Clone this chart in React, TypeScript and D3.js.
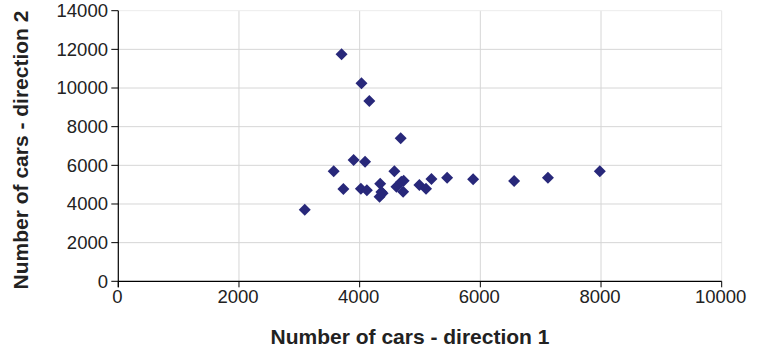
import React from "react";
import * as d3 from "d3";

const xValues = [3090, 3570, 3700, 3730, 3900, 4020, 4030, 4090, 4120, 4160, 4340, 4360, 4330, 4380, 4575, 4610, 4680, 4690, 4730, 4720, 4990, 5100, 5190, 5450, 5880, 6560, 7120, 7980];
const yValues = [3700, 5690, 11750, 4780, 6280, 4790, 10250, 6190, 4710, 9330, 5050, 4620, 4370, 4550, 5690, 4890, 7400, 5150, 5200, 4630, 4980, 4790, 5290, 5360, 5280, 5190, 5360, 5690];
const xTicks = [0, 2000, 4000, 6000, 8000, 10000];
const yTicks = [0, 2000, 4000, 6000, 8000, 10000, 12000, 14000];
const xTitle = "Number of cars - direction 1";
const yTitle = "Number of cars - direction 2";

const W = 758;
const H = 351;
const left = 118.3;
const right = 721.7;
const top = 10.7;
const bottom = 281.3;

export default function App() {
  const x = d3.scaleLinear().domain([0, 10000]).range([left, right]);
  const y = d3.scaleLinear().domain([0, 14000]).range([bottom, top]);
  const diamond = "M0,-6L6,0L0,6L-6,0Z";
  const font = "'Liberation Sans', Arial, sans-serif";
  return (
    <svg width={W} height={H} style={{ position: "absolute", left: 0, top: 0, background: "#fff" }}>
      {xTicks.filter((t) => t > 0).map((t) => (
        <line key={"gx" + t} x1={x(t)} x2={x(t)} y1={top} y2={bottom}
          stroke={t === 10000 ? "#e6e6e6" : "#d6d6d6"} strokeWidth={1} />
      ))}
      {yTicks.filter((t) => t > 0).map((t) => (
        <line key={"gy" + t} x1={left} x2={right} y1={y(t)} y2={y(t)}
          stroke={t === 14000 ? "#ececec" : "#d6d6d6"} strokeWidth={1} />
      ))}
      <line x1={left} x2={left} y1={top} y2={bottom + 6} stroke="#000" strokeWidth={1.2} />
      <line x1={left} x2={right} y1={bottom} y2={bottom} stroke="#000" strokeWidth={1.2} />
      {yTicks.map((t) => (
        <g key={"ty" + t}>
          <line x1={left - 7} x2={left} y1={y(t)} y2={y(t)} stroke="#000" strokeWidth={1} />
          <text x={108} y={y(t)} dy="0.35em" textAnchor="end" fontSize={18.5} fontFamily={font} fill="#222">
            {t}
          </text>
        </g>
      ))}
      {xTicks.map((t) => (
        <g key={"tx" + t}>
          <line x1={x(t)} x2={x(t)} y1={bottom} y2={bottom + 6} stroke="#000" strokeWidth={1} />
          <text x={x(t) - 1} y={303} textAnchor="middle" fontSize={18.5} fontFamily={font} fill="#222">
            {t}
          </text>
        </g>
      ))}
      {xValues.map((v, i) => (
        <path key={"p" + i} d={diamond} transform={`translate(${x(v)},${y(yValues[i])})`} fill="#28287a" />
      ))}
      <text x={410} y={344} textAnchor="middle" fontSize={21} fontWeight="bold" fontFamily={font} fill="#222">
        {xTitle}
      </text>
      <text transform={`translate(28,150) rotate(-90)`} textAnchor="middle" fontSize={21} fontWeight="bold" fontFamily={font} fill="#222">
        {yTitle}
      </text>
    </svg>
  );
}
